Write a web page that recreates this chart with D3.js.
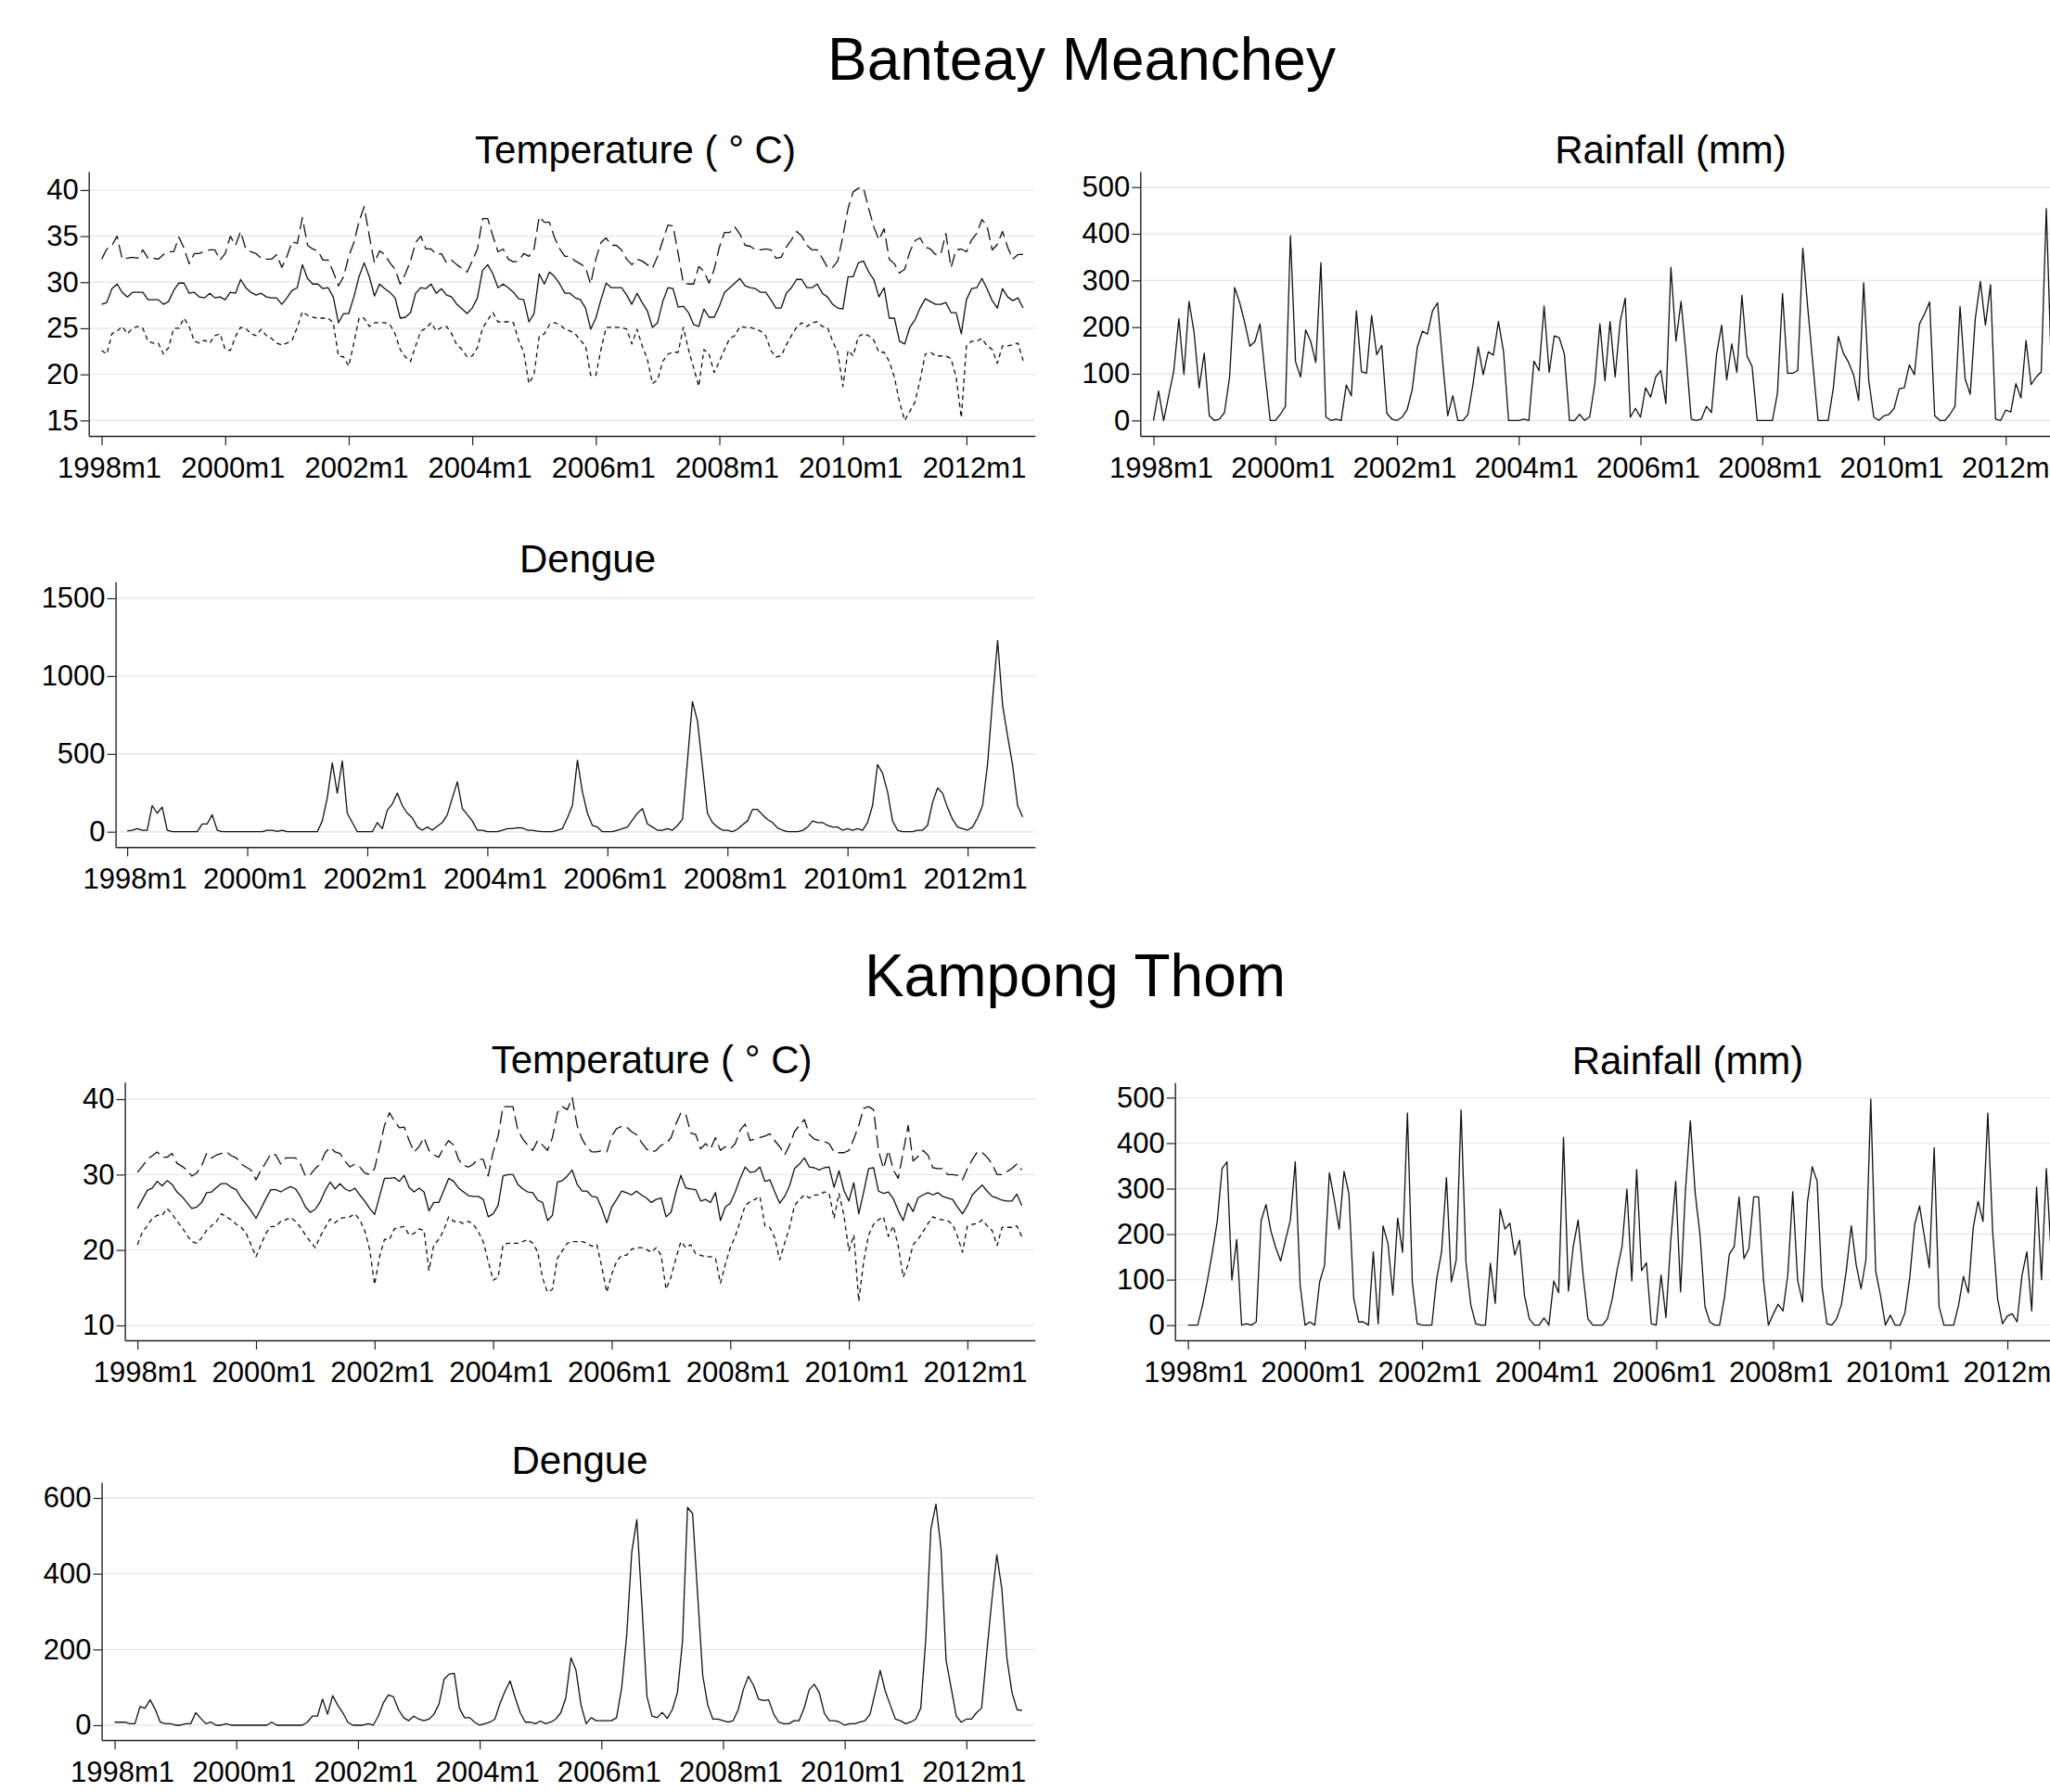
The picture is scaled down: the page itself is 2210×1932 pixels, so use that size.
<!DOCTYPE html>
<html>
<head>
<meta charset="utf-8">
<script src="https://cdn.jsdelivr.net/npm/d3@7"></script>
<style>
    html, body { margin: 0; padding: 0; background: #fff; overflow: hidden; }
    svg { display: block; }
    text { font-family: 'Liberation Sans', Arial, sans-serif; fill: #000; }
</style>
</head>
<body>
<div id="chart"></div>
<script>
// x axis tick labels (Stata monthly format)
const xTickLabels = ['1998m1', '2000m1', '2002m1', '2004m1', '2006m1', '2008m1', '2010m1', '2012m1'];

// Banteay Meanchey, monthly 1998m1 - 2012m12
const bmTempMax = [
    32.5, 33.6, 34.0, 35.0, 32.5, 32.6, 32.7, 32.6, 33.5, 32.6, 32.6, 32.5,
    33.0, 33.3, 33.3, 34.9, 33.7, 32.0, 33.1, 33.1, 33.4, 33.5, 33.5, 32.4,
    33.1, 35.0, 34.0, 35.5, 33.6, 33.3, 33.1, 32.6, 32.5, 32.5, 33.0, 31.6,
    32.8, 34.4, 34.2, 37.0, 34.0, 33.6, 33.4, 32.4, 32.4, 31.1, 29.6, 30.6,
    32.8, 34.3, 36.6, 38.2, 35.0, 32.1, 33.4, 33.0, 32.1, 31.4, 29.8, 30.9,
    32.3, 34.3, 35.0, 33.6, 33.6, 33.0, 33.1, 32.1, 32.4, 31.9, 31.5, 31.1,
    32.3, 33.6, 36.9, 36.9, 35.0, 33.3, 33.6, 32.5, 32.2, 32.3, 33.1, 32.8,
    33.6, 37.1, 36.5, 36.5, 34.8, 33.6, 32.8, 32.8, 32.3, 32.0, 31.6, 29.8,
    32.5, 34.3, 34.8, 34.0, 34.0, 33.5, 32.5, 31.9, 32.5, 32.3, 31.9, 31.5,
    32.8, 34.5, 36.2, 36.1, 33.1, 29.9, 29.8, 29.8, 31.7, 31.2, 29.9, 31.4,
    33.8, 35.4, 35.4, 36.0, 35.2, 34.0, 33.9, 33.5, 33.5, 33.6, 33.5, 32.6,
    32.7, 33.8, 34.6, 35.5, 35.0, 34.0, 33.5, 33.5, 32.6, 31.6, 31.6, 32.3,
    35.0, 38.0, 39.8, 40.2, 40.2, 38.0, 36.0, 34.6, 35.8, 32.5, 32.0, 31.0,
    31.4, 33.3, 34.5, 34.8, 33.8, 33.6, 33.0, 33.0, 35.3, 31.6, 33.5, 33.6,
    33.3, 34.6, 35.3, 36.8, 36.1, 33.5, 34.1, 35.5, 33.8, 32.5, 33.0, 33.0
];
const bmTempMean = [
    27.6, 27.8, 29.3, 29.8, 28.9, 28.4, 28.9, 28.9, 28.9, 28.1, 28.1, 28.1,
    27.6, 27.9, 29.1, 29.9, 29.9, 28.8, 28.9, 28.4, 28.3, 28.8, 28.3, 28.4,
    28.1, 28.9, 28.8, 30.3, 29.4, 28.9, 28.6, 28.8, 28.4, 28.3, 28.3, 27.6,
    28.3, 29.1, 29.4, 31.9, 30.4, 29.8, 29.8, 29.3, 29.4, 28.4, 25.6, 26.6,
    26.6, 28.4, 30.6, 32.1, 30.6, 28.5, 29.8, 29.3, 28.9, 28.3, 26.1, 26.2,
    26.7, 28.8, 29.4, 29.3, 29.8, 28.8, 29.3, 28.6, 28.4, 27.6, 27.1, 26.6,
    27.2, 28.3, 31.3, 31.9, 30.9, 29.4, 29.8, 29.4, 28.9, 28.2, 28.1, 25.7,
    26.6, 30.9, 29.8, 31.1, 30.6, 29.8, 28.8, 28.8, 28.3, 28.1, 27.2, 24.9,
    26.1, 28.1, 29.9, 29.4, 29.4, 29.4, 28.6, 27.6, 28.8, 27.8, 26.9, 25.1,
    25.6, 27.9, 29.4, 29.3, 27.3, 27.4, 26.7, 25.4, 25.2, 27.1, 26.2, 26.2,
    27.4, 28.9, 29.4, 29.9, 30.4, 29.6, 29.4, 29.3, 28.9, 28.9, 28.1, 27.2,
    27.2, 28.8, 29.4, 30.3, 30.3, 29.4, 29.4, 29.8, 28.8, 28.4, 27.6, 27.2,
    27.1, 30.6, 30.6, 32.1, 32.3, 31.1, 30.3, 28.4, 29.4, 26.1, 26.1, 23.6,
    23.3, 25.1, 25.9, 27.2, 28.2, 27.9, 27.6, 27.6, 27.8, 26.7, 26.7, 24.4,
    28.1, 29.3, 29.4, 30.4, 29.3, 28.0, 27.2, 29.3, 28.4, 28.0, 28.3, 27.2
];
const bmTempMin = [
    22.6, 22.2, 24.4, 24.7, 25.2, 24.4, 25.0, 25.2, 25.0, 23.6, 23.4, 23.4,
    22.2, 22.9, 25.0, 25.0, 26.1, 25.2, 23.6, 23.4, 23.7, 23.4, 24.2, 24.4,
    22.7, 22.6, 24.1, 25.1, 25.0, 24.4, 24.2, 24.9, 24.2, 23.9, 23.4, 23.2,
    23.4, 23.7, 25.1, 26.8, 26.4, 26.2, 26.1, 26.1, 26.1, 25.6, 22.0, 21.9,
    20.9, 23.4, 26.1, 26.1, 25.2, 25.6, 25.6, 25.6, 25.4, 24.4, 22.7, 21.9,
    21.4, 23.1, 24.7, 25.0, 25.6, 24.7, 25.1, 25.2, 24.4, 23.2, 22.7, 21.9,
    22.0, 22.9, 25.0, 25.9, 26.7, 25.7, 25.7, 25.7, 25.6, 23.7, 22.4, 19.0,
    20.0, 24.1, 24.4, 25.4, 25.6, 25.4, 24.9, 24.7, 24.4, 23.7, 23.1, 19.9,
    19.9, 22.7, 25.1, 25.1, 25.1, 25.1, 24.9, 23.3, 24.9, 23.1, 21.7, 19.0,
    19.4, 21.4, 22.2, 22.4, 22.4, 25.1, 22.7, 20.7, 18.7, 22.7, 22.2, 20.2,
    21.4, 22.7, 23.9, 24.2, 25.2, 25.1, 25.1, 24.9, 24.7, 24.2, 22.6, 21.9,
    22.0, 23.2, 24.2, 25.1, 25.6, 25.2, 25.6, 25.7, 25.2, 25.1, 23.6, 22.4,
    18.7, 22.6, 22.0, 24.1, 24.4, 24.2, 23.7, 22.4, 22.4, 21.4, 19.7, 17.0,
    15.0, 16.0, 17.0, 19.4, 22.2, 22.4, 22.0, 22.0, 22.0, 21.7, 19.7, 15.3,
    23.1, 23.6, 23.6, 23.9, 23.1, 22.7, 21.2, 23.1, 23.1, 23.2, 23.4, 21.5
];
const bmRain = [
    0, 63, 0, 53, 106, 218, 99, 255, 189, 70, 144, 10,
    0, 3, 17, 93, 285, 252, 209, 159, 169, 207, 99, 0,
    0, 13, 30, 396, 126, 93, 194, 169, 124, 338, 7, 0,
    3, 0, 76, 53, 235, 104, 101, 225, 141, 161, 15, 3,
    0, 7, 23, 66, 156, 191, 185, 235, 252, 126, 10, 53,
    0, 0, 13, 79, 158, 98, 147, 140, 212, 148, 0, 0,
    0, 3, 0, 127, 107, 245, 103, 181, 177, 142, 0, 0,
    13, 0, 8, 79, 207, 85, 212, 93, 212, 262, 7, 26,
    7, 70, 50, 93, 107, 36, 328, 170, 255, 138, 3, 0,
    3, 30, 17, 142, 204, 87, 164, 103, 268, 138, 116, 0,
    0, 0, 0, 58, 272, 101, 101, 107, 369, 238, 119, 0,
    0, 0, 68, 180, 144, 125, 98, 43, 295, 86, 7, 0,
    10, 13, 26, 68, 70, 119, 98, 207, 228, 254, 10, 0,
    0, 13, 30, 244, 89, 56, 218, 298, 204, 291, 3, 0,
    22, 18, 79, 48, 171, 77, 93, 104, 454, 106, 150, 20
];
const bmDengue = [
    5, 10, 20, 10, 10, 168, 119, 158, 10, 0, 0, 0,
    0, 0, 0, 50, 50, 109, 10, 0, 0, 0, 0, 0,
    0, 0, 0, 0, 10, 10, 2, 10, 0, 0, 0, 0,
    0, 0, 0, 69, 218, 441, 248, 455, 119, 59, 0, 0,
    0, 0, 59, 20, 139, 178, 248, 168, 119, 89, 30, 10,
    30, 10, 36, 59, 109, 218, 321, 149, 109, 69, 10, 10,
    0, 0, 0, 10, 20, 20, 26, 24, 10, 10, 4, 0,
    0, 0, 10, 20, 89, 168, 459, 257, 119, 40, 30, 0,
    0, 0, 10, 20, 30, 75, 119, 149, 50, 30, 10, 10,
    20, 10, 40, 79, 455, 836, 713, 416, 119, 59, 30, 10,
    10, 0, 16, 44, 69, 143, 143, 109, 79, 59, 24, 10,
    0, 0, 0, 8, 30, 69, 59, 59, 40, 30, 30, 10,
    20, 10, 20, 10, 59, 168, 432, 376, 257, 69, 10, 0,
    0, 0, 10, 10, 40, 188, 281, 248, 154, 79, 30, 20,
    10, 30, 89, 168, 436, 851, 1228, 812, 614, 426, 168, 95
];

// Kampong Thom, monthly 1998m1 - 2012m12
const ktTempMax = [
    30.3, 31.1, 32.0, 32.5, 33.0, 32.3, 32.3, 32.8, 31.5, 31.1, 30.6, 29.8,
    30.2, 31.2, 32.8, 32.2, 32.6, 32.8, 33.0, 32.5, 32.2, 31.4, 31.0, 30.6,
    29.3, 30.6, 31.6, 32.8, 32.6, 31.4, 32.2, 32.2, 32.2, 31.4, 29.8, 30.0,
    30.8, 31.4, 32.9, 33.6, 33.0, 32.8, 31.8, 31.0, 31.4, 31.0, 30.2, 30.0,
    30.8, 33.6, 36.5, 38.2, 37.1, 36.2, 36.3, 34.5, 33.0, 33.7, 34.9, 33.2,
    32.6, 32.3, 33.6, 34.5, 33.9, 32.0, 31.2, 31.0, 31.4, 32.1, 32.0, 29.8,
    33.0, 35.1, 39.0, 39.0, 39.0, 35.9, 34.7, 33.9, 33.2, 34.5, 33.9, 33.2,
    34.9, 38.2, 39.0, 38.6, 40.2, 36.5, 34.7, 33.6, 33.0, 33.0, 33.2, 33.0,
    35.1, 36.1, 36.4, 36.3, 35.7, 35.3, 34.3, 33.4, 33.0, 33.2, 33.9, 34.1,
    34.9, 36.7, 38.2, 38.0, 35.5, 35.3, 33.4, 34.1, 33.4, 34.9, 33.2, 33.7,
    33.4, 34.1, 35.9, 36.7, 34.5, 34.7, 34.9, 35.1, 35.4, 34.5, 33.7, 32.6,
    33.9, 35.7, 36.5, 37.3, 35.3, 34.7, 34.5, 34.4, 34.1, 33.0, 32.9, 32.9,
    33.2, 34.7, 36.5, 38.8, 39.0, 38.6, 33.2, 30.8, 33.2, 30.6, 29.5, 33.0,
    36.5, 31.8, 32.4, 33.2, 32.6, 30.9, 30.8, 30.8, 30.0, 30.0, 29.9, 29.3,
    30.8, 32.0, 33.0, 32.9, 32.3, 31.4, 30.0, 30.0, 30.4, 30.8, 31.4, 30.6
];
const ktTempMean = [
    25.5, 26.7, 27.9, 28.2, 29.1, 28.5, 29.2, 28.7, 27.7, 27.1, 26.3, 25.5,
    25.7, 26.3, 27.6, 27.7, 28.3, 28.8, 28.8, 28.3, 28.0, 26.9, 26.1, 25.2,
    24.2, 25.5, 26.8, 28.0, 28.0, 27.7, 28.1, 28.4, 28.1, 27.1, 25.7, 25.0,
    25.4, 26.4, 27.9, 29.0, 28.1, 28.8, 28.1, 27.8, 28.2, 27.3, 26.5, 25.5,
    24.7, 27.1, 29.5, 29.5, 29.6, 29.1, 29.9, 28.3, 27.7, 28.2, 27.7, 25.2,
    26.3, 26.3, 27.9, 29.5, 29.1, 28.2, 27.7, 27.2, 27.1, 27.1, 26.7, 24.4,
    24.8, 25.9, 29.8, 30.0, 30.0, 28.7, 28.1, 27.7, 27.6, 26.6, 26.3, 23.9,
    24.6, 29.0, 29.2, 29.8, 30.6, 28.7, 27.8, 27.8, 27.1, 27.0, 25.5, 23.6,
    25.7, 26.7, 27.8, 27.6, 27.3, 27.8, 27.3, 26.9, 26.3, 26.7, 26.9, 24.4,
    25.0, 27.7, 29.9, 28.2, 28.1, 28.0, 26.5, 26.7, 26.3, 27.6, 23.9, 25.7,
    26.2, 27.7, 29.5, 31.0, 30.3, 30.4, 31.0, 29.1, 29.3, 27.7, 26.2, 27.1,
    28.5, 30.8, 31.4, 32.2, 31.0, 30.9, 30.6, 30.9, 31.0, 28.3, 30.5, 27.9,
    26.5, 28.9, 24.8, 27.7, 30.8, 30.9, 27.8, 27.5, 27.7, 26.8, 25.2, 23.9,
    26.2, 25.1, 26.9, 27.3, 27.6, 27.3, 27.6, 27.1, 26.9, 26.7, 25.7, 24.8,
    25.9, 27.3, 28.0, 28.6, 27.8, 27.1, 26.9, 26.6, 26.5, 26.5, 27.4, 25.9
];
const ktTempMin = [
    20.7, 22.4, 23.2, 24.2, 24.6, 24.6, 25.5, 24.8, 23.8, 23.0, 22.0, 21.1,
    20.9, 21.6, 22.6, 23.2, 23.8, 24.8, 24.4, 24.0, 23.4, 23.0, 22.2, 20.7,
    19.1, 20.7, 22.2, 23.1, 23.1, 23.8, 24.0, 24.3, 23.8, 23.0, 22.0, 21.1,
    20.3, 21.8, 23.0, 24.1, 23.6, 24.2, 24.3, 24.4, 24.8, 24.0, 22.6, 20.1,
    15.4, 19.1, 21.4, 21.4, 22.8, 23.0, 23.1, 22.0, 22.2, 22.8, 22.6, 17.3,
    20.7, 21.4, 22.6, 24.4, 23.8, 23.8, 23.5, 23.8, 23.4, 22.4, 21.1, 18.5,
    16.0, 16.4, 20.7, 20.9, 20.9, 20.9, 21.1, 21.4, 20.9, 19.8, 16.3, 14.4,
    14.8, 18.9, 19.9, 20.9, 21.1, 21.1, 21.1, 20.9, 20.5, 20.7, 17.7, 14.4,
    16.8, 18.5, 19.3, 19.3, 20.1, 20.3, 20.3, 20.1, 19.7, 20.3, 19.3, 14.8,
    16.4, 18.9, 21.1, 20.3, 20.7, 19.5, 19.3, 19.1, 19.1, 18.9, 15.6, 18.1,
    20.3, 21.8, 23.8, 25.9, 26.4, 26.7, 27.1, 23.2, 23.0, 21.6, 18.7, 20.9,
    23.0, 25.9, 26.7, 27.3, 26.9, 27.3, 27.3, 27.7, 27.5, 24.2, 27.5, 24.6,
    19.9, 22.0, 13.2, 18.5, 22.0, 23.4, 24.0, 24.4, 21.8, 23.2, 20.5, 16.4,
    18.1, 20.7, 21.4, 22.4, 23.5, 24.4, 24.1, 24.0, 23.9, 23.4, 21.8, 19.7,
    23.2, 23.4, 23.5, 24.0, 23.2, 22.6, 20.6, 23.0, 23.0, 23.0, 23.2, 21.8
];
const ktRain = [
    0, 0, 0, 44, 99, 160, 228, 344, 359, 99, 188, 0,
    3, 0, 7, 229, 265, 207, 170, 141, 187, 231, 359, 88,
    0, 7, 0, 95, 131, 335, 276, 211, 338, 289, 58, 7,
    7, 0, 161, 3, 218, 180, 66, 235, 160, 466, 95, 3,
    0, 0, 0, 102, 161, 324, 95, 143, 473, 139, 44, 3,
    0, 0, 136, 48, 255, 211, 224, 154, 187, 65, 14, 0,
    0, 16, 0, 97, 71, 413, 75, 173, 231, 112, 14, 0,
    0, 0, 14, 58, 122, 173, 299, 97, 342, 120, 137, 3,
    0, 110, 17, 187, 316, 73, 296, 449, 290, 197, 41, 7,
    0, 0, 61, 156, 173, 282, 146, 168, 282, 282, 99, 0,
    24, 46, 31, 112, 293, 99, 51, 269, 348, 316, 85, 3,
    0, 14, 46, 122, 218, 133, 80, 143, 497, 119, 65, 0,
    22, 0, 0, 27, 105, 221, 262, 194, 126, 390, 41, 0,
    0, 0, 44, 107, 71, 214, 272, 228, 466, 204, 58, 3,
    20, 25, 7, 109, 161, 31, 303, 100, 344, 150, 60, 10
];
const ktDengue = [
    8, 8, 8, 4, 4, 49, 45, 67, 42, 8, 4, 4,
    0, 0, 4, 4, 33, 18, 4, 8, 0, 0, 4, 0,
    0, 0, 0, 0, 0, 0, 0, 8, 0, 0, 0, 0,
    0, 0, 8, 24, 24, 69, 29, 78, 53, 33, 8, 0,
    0, 0, 4, 0, 24, 59, 80, 75, 41, 20, 12, 24,
    16, 12, 16, 29, 57, 122, 135, 137, 45, 20, 20, 8,
    0, 4, 8, 16, 57, 90, 117, 73, 33, 8, 8, 4,
    11, 4, 8, 16, 33, 73, 178, 145, 53, 4, 20, 12,
    12, 12, 12, 20, 98, 237, 457, 543, 318, 75, 24, 20,
    34, 18, 41, 86, 220, 575, 559, 343, 131, 53, 16, 16,
    12, 8, 12, 41, 94, 129, 106, 69, 65, 67, 29, 8,
    4, 4, 12, 12, 45, 94, 108, 86, 31, 12, 12, 8,
    0, 4, 4, 8, 12, 29, 86, 145, 90, 53, 16, 12,
    4, 8, 16, 45, 229, 518, 584, 465, 171, 98, 24, 8,
    16, 16, 33, 45, 188, 327, 450, 359, 176, 86, 41, 39
];

const font = "'Liberation Sans', Arial, sans-serif";
const longDash = '14,6';
const shortDash = '5,4';

let width = 2210, height = 1932;

let svg = d3.select('#chart')
    .append('svg')
    .attr('width', width)
    .attr('height', height);

svg.append('rect')
    .attr('width', width)
    .attr('height', height)
    .attr('fill', '#fff');

// month index from a label like 2004m1
function monthIndex(label)
{
    let parts = label.split('m');
    return (+parts[0] - 1998) * 12 + (+parts[1] - 1);
}

function panel(p)
{
    let x = d3.scaleLinear().domain(p.xDomain).range([p.left, p.right]);
    let y = d3.scaleLinear().domain(p.yDomain).range([p.bottom, p.top]);

    let g = svg.append('g');

    // grid
    g.append('g')
        .selectAll('line')
        .data(p.yTicks)
        .join('line')
        .attr('x1', p.left)
        .attr('x2', p.right)
        .attr('y1', function (d) { return y(d); })
        .attr('y2', function (d) { return y(d); })
        .attr('stroke', '#e8e8e8')
        .attr('stroke-width', 1.4);

    let line = d3.line()
        .x(function (d, i) { return x(i); })
        .y(function (d) { return y(d); });

    p.series.forEach(function (s)
    {
        g.append('path')
            .datum(s.values)
            .attr('d', line)
            .attr('fill', 'none')
            .attr('stroke', '#111')
            .attr('stroke-width', 1.3)
            .attr('stroke-linejoin', 'round')
            .attr('stroke-dasharray', s.dash);
    });

    let yAxis = d3.axisLeft(y)
        .tickValues(p.yTicks)
        .tickFormat(d3.format('d'))
        .tickSize(9)
        .tickSizeOuter(0)
        .tickPadding(2);

    let xAxis = d3.axisBottom(x)
        .tickValues(xTickLabels.map(monthIndex))
        .tickFormat(function (d, i) { return xTickLabels[i]; })
        .tickSize(10)
        .tickSizeOuter(0)
        .tickPadding(13);

    let ya = g.append('g')
        .attr('transform', 'translate(' + p.left + ',0)')
        .call(yAxis);

    let xa = g.append('g')
        .attr('transform', 'translate(0,' + p.bottom + ')')
        .call(xAxis);

    // Stata puts the date labels slightly right of the tick
    xa.selectAll('.tick text').attr('dx', 8);

    [ya, xa].forEach(function (a)
    {
        a.attr('font-size', 31).attr('font-family', font);
        a.select('.domain').attr('stroke', '#222').attr('stroke-width', 1.4);
        a.selectAll('.tick line').attr('stroke', '#222').attr('stroke-width', 1.2);
        a.selectAll('.tick text').attr('fill', '#000');
    });

    g.append('text')
        .attr('x', p.titleX)
        .attr('y', p.titleY)
        .attr('text-anchor', 'middle')
        .attr('font-size', 42)
        .attr('xml:space', 'preserve')
        .text(p.title);
}

// region titles
svg.append('text')
    .attr('x', 1166)
    .attr('y', 86)
    .attr('text-anchor', 'middle')
    .attr('font-size', 64)
    .text('Banteay Meanchey');

svg.append('text')
    .attr('x', 1159)
    .attr('y', 1074)
    .attr('text-anchor', 'middle')
    .attr('font-size', 64)
    .text('Kampong Thom');

// Banteay Meanchey
panel({
    left: 95.7, right: 1115.7, top: 185, bottom: 470,
    xDomain: [-2.5, 181.3], yDomain: [13.32, 42.0],
    yTicks: [15, 20, 25, 30, 35, 40],
    title: 'Temperature ( \u00B0 C)', titleX: 685, titleY: 176,
    series: [
        { values: bmTempMax, dash: longDash },
        { values: bmTempMean, dash: null },
        { values: bmTempMin, dash: shortDash }
    ]
});

panel({
    left: 1229.3, right: 2235, top: 185, bottom: 470,
    xDomain: [-2.6, 181.3], yDomain: [-33.2, 533.2],
    yTicks: [0, 100, 200, 300, 400, 500],
    title: 'Rainfall (mm)', titleX: 1801, titleY: 176,
    series: [{ values: bmRain, dash: null }]
});

panel({
    left: 124.6, right: 1115.7, top: 627.3, bottom: 913.3,
    xDomain: [-2.32, 181.46], yDomain: [-98.9, 1605.5],
    yTicks: [0, 500, 1000, 1500],
    title: 'Dengue', titleX: 633.5, titleY: 617,
    series: [{ values: bmDengue, dash: null }]
});

// Kampong Thom
panel({
    left: 134.6, right: 1115.7, top: 1166.7, bottom: 1445,
    xDomain: [-2.55, 181.66], yDomain: [8.03, 42.25],
    yTicks: [10, 20, 30, 40],
    title: 'Temperature ( \u00B0 C)', titleX: 702.6, titleY: 1157,
    series: [
        { values: ktTempMax, dash: longDash },
        { values: ktTempMean, dash: null },
        { values: ktTempMin, dash: shortDash }
    ]
});

panel({
    left: 1266.7, right: 2235, top: 1167.3, bottom: 1445,
    xDomain: [-2.66, 181.5], yDomain: [-33.3, 532.7],
    yTicks: [0, 100, 200, 300, 400, 500],
    title: 'Rainfall (mm)', titleX: 1819.5, titleY: 1158,
    series: [{ values: ktRain, dash: null }]
});

panel({
    left: 109.6, right: 1115.7, top: 1598.3, bottom: 1876,
    xDomain: [-2.56, 181.52], yDomain: [-39.2, 640.9],
    yTicks: [0, 200, 400, 600],
    title: 'Dengue', titleX: 625, titleY: 1589,
    series: [{ values: ktDengue, dash: null }]
});
</script>
</body>
</html>
